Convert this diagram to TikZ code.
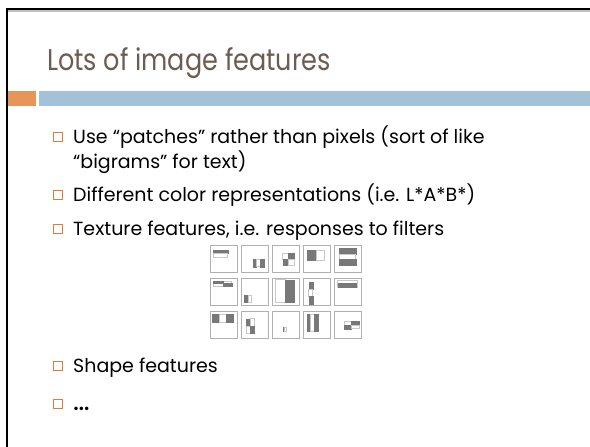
\documentclass[tikz,border=0pt]{standalone}
\usepackage{fontspec}
\setmainfont{Poppins}
\definecolor{titlec}{RGB}{110,92,82}
\definecolor{barorange}{RGB}{232,149,90}
\definecolor{barblue}{RGB}{163,193,217}
\definecolor{bulletc}{RGB}{224,123,57}
\definecolor{tileedge}{RGB}{176,176,176}
\definecolor{darkp}{RGB}{120,120,120}
\definecolor{lightp}{RGB}{200,200,200}
\tikzset{
  bodytext/.style={anchor=base west, inner sep=0pt, font=\fontsize{19}{22}\selectfont, text=black},
  bulletbox/.style={draw=bulletc, line width=1pt, fill=white},
  tile/.style={draw=tileedge, line width=1pt, fill=white},
  dk/.style={fill=darkp, draw=darkp, line width=0.4pt},
  wt/.style={fill=white, draw=lightp, line width=0.6pt}
}
\newcommand{\pathHWpair}[4]{% x1 y1 x2 y2 : left dark, right white
  \path[dk] (#1,#2) rectangle ({(#1+#3)/2},#4);
  \path[wt] ({(#1+#3)/2},#2) rectangle (#3,#4);}
\newcommand{\pathVtop}[4]{% top dark, bottom white
  \path[dk] (#1,#2) rectangle (#3,{(#2+#4)/2});
  \path[wt] (#1,{(#2+#4)/2}) rectangle (#3,#4);}
\newcommand{\pathHthree}[4]{% dark|white|dark vertical stripes
  \path[dk] (#1,#2) rectangle ({#1+(#3-#1)/3},#4);
  \path[wt] ({#1+(#3-#1)/3},#2) rectangle ({#1+2*(#3-#1)/3},#4);
  \path[dk] ({#1+2*(#3-#1)/3},#2) rectangle (#3,#4);}
\newcommand{\pathVthree}[4]{% dark/white/dark horizontal stripes
  \path[dk] (#1,#2) rectangle (#3,{#2+(#4-#2)/3});
  \path[wt] (#1,{#2+(#4-#2)/3}) rectangle (#3,{#2+2*(#4-#2)/3});
  \path[dk] (#1,{#2+2*(#4-#2)/3}) rectangle (#3,#4);}
\newcommand{\pathCheckA}[4]{% TL white TR dark BL dark BR white
  \path[wt] (#1,#2) rectangle ({(#1+#3)/2},{(#2+#4)/2});
  \path[dk] ({(#1+#3)/2},#2) rectangle (#3,{(#2+#4)/2});
  \path[dk] (#1,{(#2+#4)/2}) rectangle ({(#1+#3)/2},#4);
  \path[wt] ({(#1+#3)/2},{(#2+#4)/2}) rectangle (#3,#4);}
\newcommand{\pathCheckB}[4]{% TL dark TR white BL white BR dark
  \path[dk] (#1,#2) rectangle ({(#1+#3)/2},{(#2+#4)/2});
  \path[wt] ({(#1+#3)/2},#2) rectangle (#3,{(#2+#4)/2});
  \path[wt] (#1,{(#2+#4)/2}) rectangle ({(#1+#3)/2},#4);
  \path[dk] ({(#1+#3)/2},{(#2+#4)/2}) rectangle (#3,#4);}
\begin{document}
\begin{tikzpicture}[x=1pt,y=-1pt]
\useasboundingbox (0,0) rectangle (590,447);
\fill[white] (0,0) rectangle (590,447);
% frame
\fill[black!25] (8,10) rectangle (590,11.5);
\fill[black] (6,8) rectangle (590,10);
\fill[black] (6,8) rectangle (8,447);
% title
\node[anchor=base west, inner sep=0pt, font=\fontsize{30}{34}\selectfont, text=titlec] (title) at (47,70) {\scalebox{0.85}[1]{Lots of image features}};
% bars
\fill[barorange] (8,91) rectangle (36,106);
\fill[barblue] (39,91) rectangle (590,106);
% bullets
\foreach \y/\n in {143/b1,201/b2,235/b3,372/b4,410/b5}{
  \path[bulletbox] (53,\y-11) rectangle (62,\y-2);
}
\node[bodytext] (t1) at (73,143) {Use “patches” rather than pixels (sort of like};
\node[bodytext] (t1b) at (73,168) {“bigrams” for text)};
\node[bodytext] (t2) at (73,201) {Different color representations (i.e. L*A*B*)};
\node[bodytext] (t3) at (73,235) {Texture features, i.e. responses to filters};
\node[bodytext] (t4) at (73,372) {Shape features};
\node[bodytext] (t5) at (73,410) {\scalebox{1.5}{…}};
% filter tiles
\foreach \cx in {210,241,272,303,334}{
  \foreach \cy in {245,278,311}{
    \path[tile] (\cx,\cy) rectangle ++(27,27);
  }
}
% row 1
\begin{scope}[shift={(210,245)}]\pathVtop{3.3}{5}{17.7}{12.3}\end{scope}
\begin{scope}[shift={(241,245)}]\pathHthree{11.7}{14}{23}{21.7}\end{scope}
\begin{scope}[shift={(272,245)}]\pathCheckA{10.7}{8.3}{22.3}{20}\end{scope}
\begin{scope}[shift={(303,245)}]\pathHWpair{4}{5}{21.7}{15}\end{scope}
\begin{scope}[shift={(334,245)}]\pathVthree{5}{3.3}{21.7}{20}\end{scope}
% row 2
\begin{scope}[shift={(210,278)}]
  \path[wt] (3.3,3.3) rectangle (21.7,8);
  \path[dk] (3.3,3.3) rectangle (13,5.6);
  \path[dk] (13,5.6) rectangle (21.7,8);
\end{scope}
\begin{scope}[shift={(241,278)}]\pathHWpair{3.3}{17.3}{10.7}{24}\end{scope}
\begin{scope}[shift={(272,278)}]
  \path[wt] (3.3,1.7) rectangle (12.8,24);
  \path[dk] (12.8,1.7) rectangle (22.3,24);
\end{scope}
\begin{scope}[shift={(303,278)}]\pathVthree{5.7}{4}{9.7}{25.7}\end{scope}
\begin{scope}[shift={(334,278)}]
  \path[wt] (3.3,2.3) rectangle (23.3,9.7);
  \path[dk] (4,5) rectangle (22.6,9);
\end{scope}
% row 3
\begin{scope}[shift={(210,311)}]\pathHthree{1.7}{3.3}{23.3}{11}\end{scope}
\begin{scope}[shift={(241,311)}]\pathCheckB{5}{7.7}{13}{22}\end{scope}
\begin{scope}[shift={(272,311)}]\pathHWpair{10.7}{16}{14.3}{20}\end{scope}
\begin{scope}[shift={(303,311)}]\pathHthree{4}{3.3}{14.7}{20}\end{scope}
\begin{scope}[shift={(334,311)}]\pathCheckA{10.3}{10.3}{25}{17.7}\end{scope}
\end{tikzpicture}
\end{document}
